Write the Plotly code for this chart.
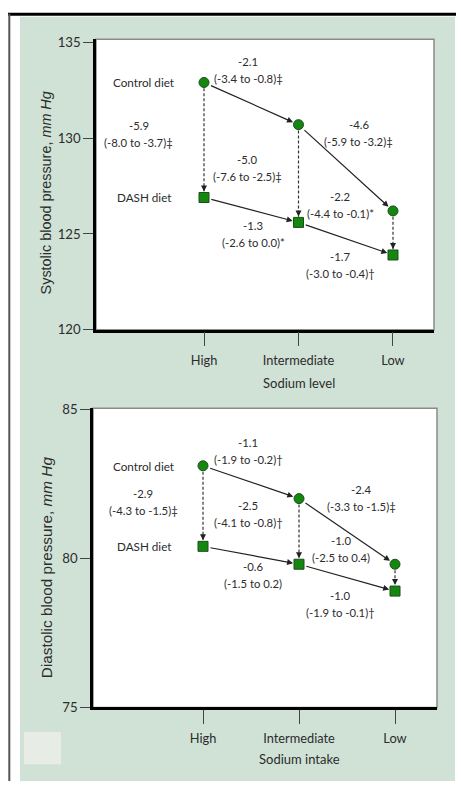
import plotly.graph_objects as go

# Sodium levels on the x axis
levels = ["High", "Intermediate", "Low"]
xpos = [0, 1, 2]

# Systolic blood pressure, mm Hg
sbp_control = [132.9, 130.7, 126.2]
sbp_dash = [126.9, 125.6, 123.9]

# Diastolic blood pressure, mm Hg
dbp_control = [83.1, 82.0, 79.8]
dbp_dash = [80.4, 79.8, 78.9]

# Difference labels: (x, y, change, confidence interval) in data units
sbp_labels = [
    (0.47, 133.54, "-2.1", "(-3.4 to -0.8)‡"),
    (-0.69, 130.2, "-5.9", "(-8.0 to -3.7)‡"),
    (1.64, 130.25, "-4.6", "(-5.9 to -3.2)‡"),
    (0.46, 128.44, "-5.0", "(-7.6 to -2.5)‡"),
    (1.44, 126.49, "-2.2", "(-4.4 to -0.1)*"),
    (0.52, 125.0, "-1.3", "(-2.6 to 0.0)*"),
    (1.44, 123.36, "-1.7", "(-3.0 to -0.4)†"),
]
dbp_labels = [
    (0.47, 83.59, "-1.1", "(-1.9 to -0.2)†"),
    (-0.62, 81.87, "-2.9", "(-4.3 to -1.5)‡"),
    (0.47, 81.48, "-2.5", "(-4.1 to -0.8)†"),
    (1.65, 82.02, "-2.4", "(-3.3 to -1.5)‡"),
    (1.44, 80.30, "-1.0", "(-2.5 to 0.4)"),
    (0.52, 79.43, "-0.6", "(-1.5 to 0.2)"),
    (1.43, 78.48, "-1.0", "(-1.9 to -0.1)†"),
]

W, H = 461, 789
FONT = "Lato"
TITLE_FONT = "Liberation Sans"
TXT = "#2c2c2c"
GREEN = "#14870f"
EDGE = "#1d4d1d"
PANEL = "#d0e2d6"

fig = go.Figure()


def px(v):
    return v / W


def py(v):
    return 1 - v / H


panels = [
    dict(xa="x", ya="y", xd=[px(96), px(434)], yd=[py(329), py(33)],
         xr=[-1.143, 2.434], yr=[120, 135.15], ytick=[120, 125, 130, 135],
         ctrl=sbp_control, dash=sbp_dash, labels=sbp_labels,
         ytitle="Systolic blood pressure, <i>mm Hg</i>", ytitle_y=190, ytitle_size=14.4,
         xtitle="Sodium level", xtitle_y=383, dy=0.3, names_x=(-0.286, -0.317)),
    dict(xa="x2", ya="y2", xd=[px(93), px(437)], yd=[py(714), py(409)],
         xr=[-1.146, 2.4375], yr=[75, 85.03], ytick=[75, 80, 85],
         ctrl=dbp_control, dash=dbp_dash, labels=dbp_labels,
         ytitle="Diastolic blood pressure, <i>mm Hg</i>", ytitle_y=571, ytitle_size=15.3,
         xtitle="Sodium intake", xtitle_y=767, dy=0.2, names_x=(-0.27, -0.30)),
]

shapes = [
    # panel background and frame lines
    dict(type="rect", xref="paper", yref="paper", x0=px(20), x1=px(455), y0=0, y1=py(10),
         fillcolor=PANEL, line_width=0, layer="below"),
    dict(type="line", xref="paper", yref="paper", x0=px(8), x1=px(456), y0=py(7.5), y1=py(7.5),
         line=dict(color="black", width=3)),
    dict(type="line", xref="paper", yref="paper", x0=px(9.3), x1=px(9.3), y0=0, y1=py(7),
         line=dict(color="#555555", width=2)),
    dict(type="rect", xref="paper", yref="paper", x0=px(24), x1=px(61), y0=py(772), y1=py(739),
         fillcolor="#e8ece7", line_width=0, layer="below"),
]
annotations = []

for i, p in enumerate(panels):
    sfx = "" if i == 0 else "2"
    xref, yref = p["xa"], p["ya"]
    # white plot area with thin grey frame
    shapes.append(dict(type="rect", xref=f"{xref} domain", yref=f"{yref} domain",
                       x0=0, x1=1, y0=0, y1=1, fillcolor="white",
                       line=dict(color="#8a8a8a", width=1.5), layer="below"))
    # dashed vertical comparisons between diets
    for x, c, d in zip(xpos, p["ctrl"], p["dash"]):
        shapes.append(dict(type="line", xref=xref, yref=yref, x0=x, x1=x,
                           y0=c - p["dy"], y1=d + p["dy"],
                           line=dict(color="#333333", width=1.2, dash="3px,2px")))
        annotations.append(dict(x=x, y=d, xref=xref, yref=yref, ax=0, ay=-13,
                                showarrow=True, arrowhead=2, arrowsize=1, arrowwidth=1.2,
                                arrowcolor="#222222", standoff=6, text=""))
    # solid arrows between sodium levels
    for series in (p["ctrl"], p["dash"]):
        for k in range(2):
            annotations.append(dict(x=xpos[k + 1], y=series[k + 1], ax=xpos[k], ay=series[k],
                                    xref=xref, yref=yref, axref=xref, ayref=yref,
                                    showarrow=True, arrowhead=2, arrowsize=1, arrowwidth=1.2,
                                    arrowcolor="#222222", standoff=6, startstandoff=6, text=""))
    # markers
    fig.add_trace(go.Scatter(x=xpos, y=p["ctrl"], mode="markers", xaxis=xref, yaxis=yref,
                             marker=dict(symbol="circle", size=10, color=GREEN,
                                         line=dict(color=EDGE, width=1)),
                             showlegend=False, hoverinfo="skip"))
    fig.add_trace(go.Scatter(x=xpos, y=p["dash"], mode="markers", xaxis=xref, yaxis=yref,
                             marker=dict(symbol="square", size=10, color=GREEN,
                                         line=dict(color=EDGE, width=1)),
                             showlegend=False, hoverinfo="skip"))
    # series names
    annotations.append(dict(x=p["names_x"][0], y=p["ctrl"][0], xref=xref, yref=yref,
                            text="Control diet", showarrow=False, xanchor="right",
                            yanchor="middle", font=dict(family=FONT, size=11.7, color=TXT)))
    annotations.append(dict(x=p["names_x"][1], y=p["dash"][0], xref=xref, yref=yref,
                            text="DASH diet", showarrow=False, xanchor="right",
                            yanchor="middle", font=dict(family=FONT, size=11.7, color=TXT)))
    # difference labels: change on the first line, interval on the second
    for lx, ly, change, ci in p["labels"]:
        for txt, shift in ((change, 8.5), (ci, -8.5)):
            annotations.append(dict(x=lx, y=ly, xref=xref, yref=yref, text=txt,
                                    showarrow=False, yshift=shift,
                                    xanchor="center", yanchor="middle",
                                    font=dict(family=FONT, size=11.3, color=TXT)))
    # axis titles
    annotations.append(dict(x=px(46), y=py(p["ytitle_y"]), xref="paper", yref="paper",
                            text=p["ytitle"], textangle=-90, showarrow=False,
                            xanchor="center", yanchor="middle",
                            font=dict(family=TITLE_FONT, size=p["ytitle_size"], color=TXT)))
    annotations.append(dict(x=(p["xd"][0] + p["xd"][1]) / 2 + px(34), y=py(p["xtitle_y"]),
                            xref="paper", yref="paper", text=p["xtitle"], showarrow=False,
                            xanchor="center", yanchor="middle",
                            font=dict(family=FONT, size=13, color=TXT)))

    xtick_font = dict(family=FONT, size=12.8, color=TXT)
    ytick_font = dict(family=FONT, size=13.2, color=TXT)
    fig.update_layout(**{
        f"xaxis{sfx}": dict(domain=p["xd"], range=p["xr"], tickvals=xpos, ticktext=levels,
                            anchor=yref, showline=True, linecolor="black", linewidth=2.5,
                            ticks="outside", ticklen=14, tickwidth=1.2, tickcolor="#444444",
                            ticklabelstandoff=3,
                            showgrid=False, zeroline=False, tickfont=xtick_font,
                            fixedrange=True),
        f"yaxis{sfx}": dict(domain=p["yd"], range=p["yr"], tickvals=p["ytick"],
                            anchor=xref, showline=True, linecolor="black", linewidth=2.5,
                            ticks="outside", ticklen=10, tickwidth=1.2, tickcolor="#444444",
                            showgrid=False, zeroline=False, tickfont=ytick_font,
                            fixedrange=True),
    })

fig.update_layout(
    width=W, height=H, margin=dict(l=0, r=0, t=0, b=0),
    paper_bgcolor="white", plot_bgcolor="white",
    shapes=shapes, annotations=annotations, showlegend=False,
)

fig.write_html("out.html", config={"displayModeBar": False})
